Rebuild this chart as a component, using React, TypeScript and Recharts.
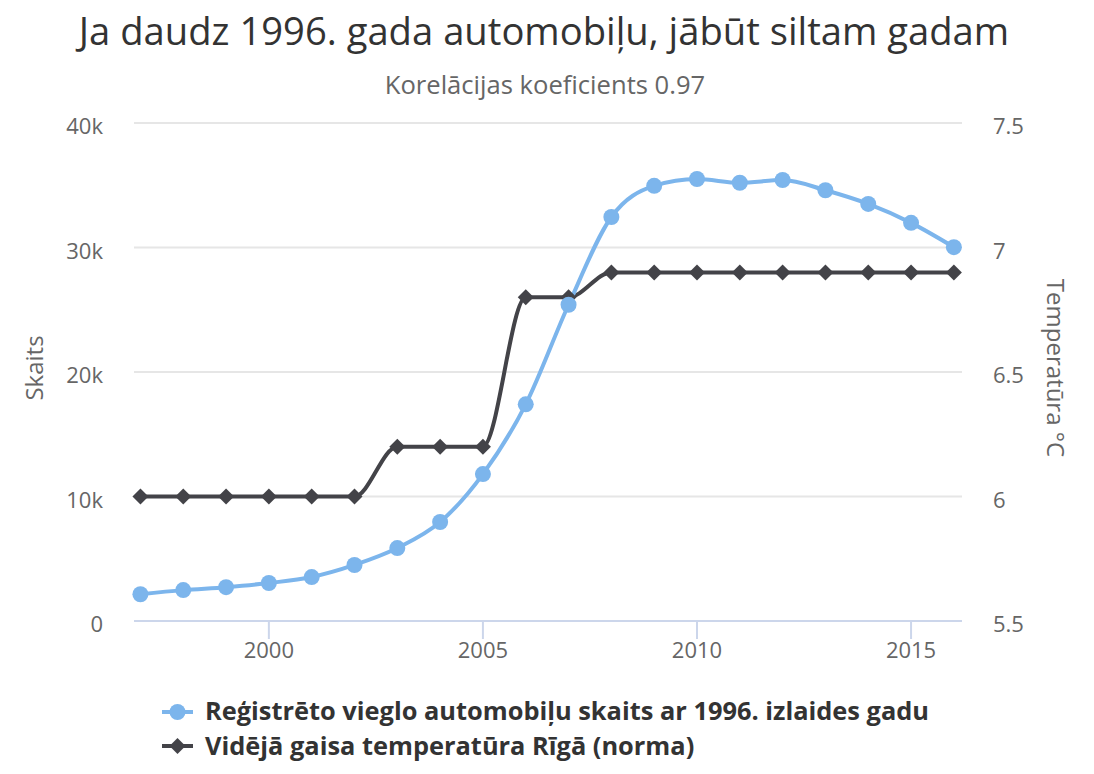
import { LineChart, Line, XAxis, YAxis, CartesianGrid } from 'recharts'

const YEARS = [1997, 1998, 1999, 2000, 2001, 2002, 2003, 2004, 2005, 2006, 2007, 2008, 2009, 2010, 2011, 2012, 2013, 2014, 2015, 2016]
const CARS = [2150, 2480, 2720, 3050, 3530, 4500, 5860, 7950, 11800, 17400, 25400, 32450, 34950, 35500, 35200, 35420, 34600, 33500, 31980, 30030]
const TEMPS = [6, 6, 6, 6, 6, 6, 6.2, 6.2, 6.2, 6.8, 6.8, 6.9, 6.9, 6.9, 6.9, 6.9, 6.9, 6.9, 6.9, 6.9]

const X_TICKS = [2000, 2005, 2010, 2015]
const LEFT_TICKS = [0, 10000, 20000, 30000, 40000]
const RIGHT_TICKS = [5.5, 6, 6.5, 7, 7.5]

const TITLE = 'Ja daudz 1996. gada automobiļu, jābūt siltam gadam'
const SUBTITLE = 'Korelācijas koeficients 0.97'
const LEFT_TITLE = 'Skaits'
const RIGHT_TITLE = 'Temperatūra °C'
const CARS_NAME = 'Reģistrēto vieglo automobiļu skaits ar 1996. izlaides gadu'
const TEMP_NAME = 'Vidējā gaisa temperatūra Rīgā (norma)'

const BLUE = '#7cb5ec'
const DARK = '#434348'
const FONT = '"Open Sans", sans-serif'

const W = 1094
const H = 774

const data = YEARS.map((year, i) => ({ year, cars: CARS[i], temp: TEMPS[i] }))

function diamond(cx: number, cy: number, r: number) {
  return `M${cx},${cy - r}L${cx + r},${cy}L${cx},${cy + r}L${cx - r},${cy}Z`
}

function LeftTick({ x, y, payload }: any) {
  const v = payload.value as number
  return (
    <text x={x} y={y + 11} textAnchor="end" fill="#666" fontSize={22} fontFamily={FONT}>
      {v === 0 ? '0' : `${v / 1000}k`}
    </text>
  )
}

function RightTick({ x, y, payload }: any) {
  return (
    <text x={x} y={y + 11} textAnchor="start" fill="#666" fontSize={22} fontFamily={FONT}>
      {payload.value}
    </text>
  )
}

function BottomTick({ x, y, payload }: any) {
  return (
    <text x={x} y={y + 19} textAnchor="middle" fill="#666" fontSize={22} fontFamily={FONT}>
      {payload.value}
    </text>
  )
}

function DiamondDot(props: any) {
  const { cx, cy, index } = props
  if (cx == null || cy == null) return <g key={`d-${index}`} />
  return <path key={`d-${index}`} d={diamond(cx, cy, 8)} fill={DARK} />
}

export default function App() {
  return (
    <div style={{ position: 'absolute', left: 0, top: 0, width: W, height: H, background: '#fff' }}>
      <LineChart width={W} height={H} data={data} margin={{ top: 123, right: 0, bottom: 113, left: 0 }}>
        <CartesianGrid yAxisId="left" vertical={false} stroke="#e6e6e6" strokeWidth={2} />
        <XAxis
          dataKey="year"
          type="number"
          domain={[1996.85, 2016.19]}
          ticks={X_TICKS}
          interval={0}
          height={40}
          axisLine={{ stroke: '#ccd6eb', strokeWidth: 2 }}
          tickLine={{ stroke: '#ccd6eb', strokeWidth: 2 }}
          tickSize={18}
          tickMargin={0}
          tick={<BottomTick />}
        />
        <YAxis
          yAxisId="left"
          domain={[0, 40000]}
          ticks={LEFT_TICKS}
          width={134}
          axisLine={false}
          tickLine={false}
          tickSize={0}
          tickMargin={31}
          tick={<LeftTick />}
        />
        <YAxis
          yAxisId="right"
          orientation="right"
          domain={[5.5, 7.5]}
          ticks={RIGHT_TICKS}
          width={132}
          axisLine={false}
          tickLine={false}
          tickSize={0}
          tickMargin={31}
          tick={<RightTick />}
        />
        <Line
          yAxisId="right"
          dataKey="temp"
          type="monotone"
          stroke={DARK}
          strokeWidth={4}
          dot={<DiamondDot />}
          activeDot={false}
          isAnimationActive={false}
        />
        <Line
          yAxisId="left"
          dataKey="cars"
          type="monotone"
          stroke={BLUE}
          strokeWidth={4}
          dot={{ r: 8, fill: BLUE, stroke: 'none', strokeWidth: 0 }}
          activeDot={false}
          isAnimationActive={false}
        />
      </LineChart>

      {/* titles, axis titles and legend */}
      <svg width={W} height={H} style={{ position: 'absolute', left: 0, top: 0, pointerEvents: 'none' }} fontFamily={FONT}>
        <text x={544} y={45} textAnchor="middle" fontSize={38.2} fill="#333">{TITLE}</text>
        <text x={545} y={94} textAnchor="middle" fontSize={25.6} fill="#666">{SUBTITLE}</text>
        <text x={43} y={368} textAnchor="middle" fontSize={24} fill="#666" transform="rotate(-90 43 368)">{LEFT_TITLE}</text>
        <text x={1047} y={368} textAnchor="middle" fontSize={24} fill="#666" transform="rotate(90 1047 368)">{RIGHT_TITLE}</text>

        <line x1={162} y1={712} x2={193} y2={712} stroke={BLUE} strokeWidth={4} />
        <circle cx={177.5} cy={712} r={8} fill={BLUE} />
        <text x={205} y={720} fontSize={25.4} fontWeight="bold" fill="#333">{CARS_NAME}</text>

        <line x1={162} y1={746} x2={193} y2={746} stroke={DARK} strokeWidth={4} />
        <path d={diamond(177.5, 746, 8)} fill={DARK} />
        <text x={205} y={755} fontSize={25.4} fontWeight="bold" fill="#333">{TEMP_NAME}</text>
      </svg>
    </div>
  )
}
